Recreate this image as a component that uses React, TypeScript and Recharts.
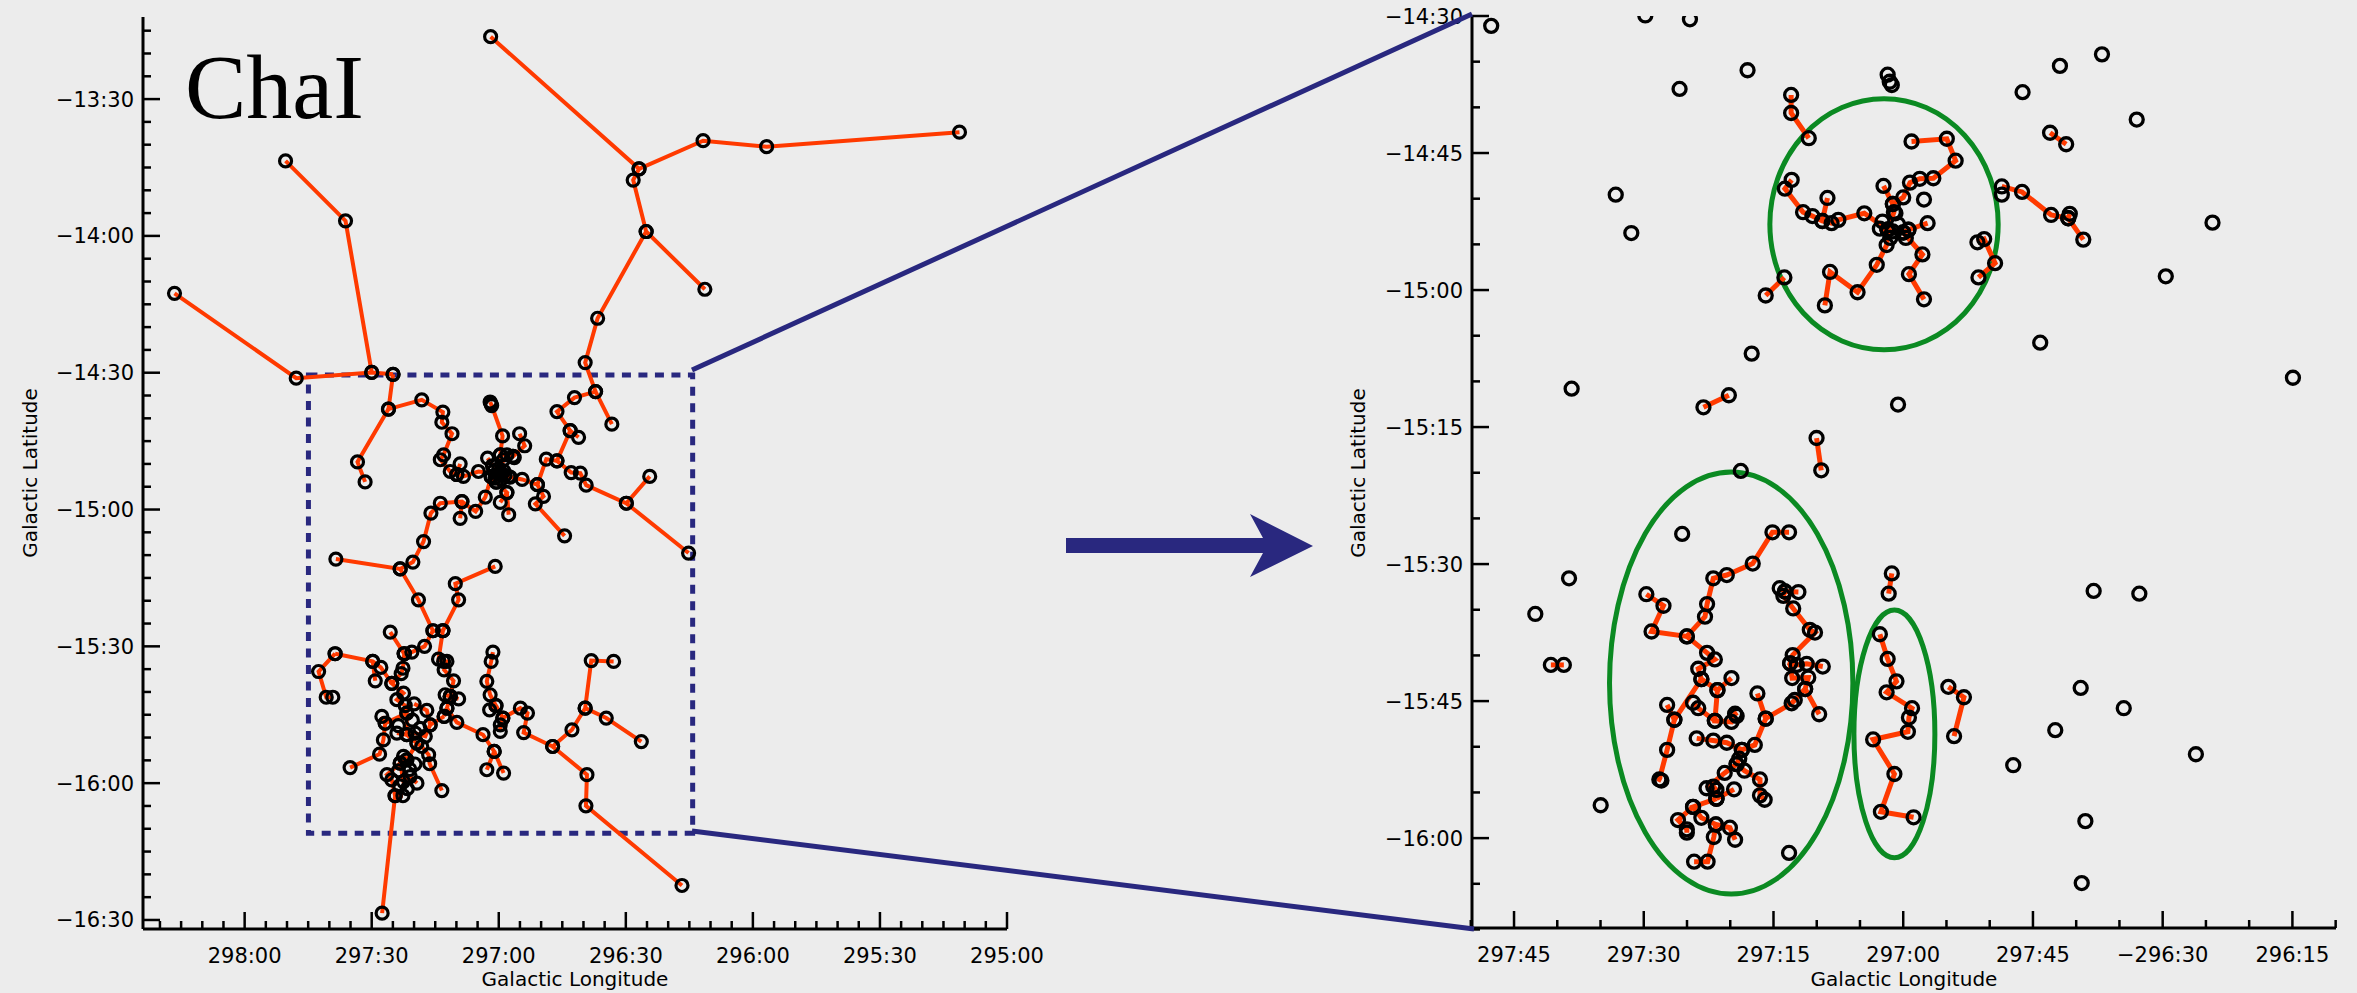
import React from "react";
import { ReferenceArea, Scatter, ScatterChart, XAxis, YAxis } from "recharts";

const RED = "#ff3a00";
const INK = "#000000";
const NAVY = "#29287f";
const GREEN = "#0b8a22";
const BG = "#ececec";
const FONT = "'DejaVu Sans', sans-serif";

// axis ticks (degrees) and their printed labels
const leftXMajors = [298, 297.5, 297, 296.5, 296, 295.5, 295];
const leftXLabels = ["298:00", "297:30", "297:00", "296:30", "296:00", "295:30", "295:00"];
const leftYMajors = [-13.5, -14, -14.5, -15, -15.5, -16, -16.5];
const leftYLabels = ["\u221213:30", "\u221214:00", "\u221214:30", "\u221215:00", "\u221215:30", "\u221216:00", "\u221216:30"];
const rightXMajors = [297.75, 297.5, 297.25, 297, 296.75, 296.5, 296.25];
const rightXLabels = ["297:45", "297:30", "297:15", "297:00", "297:45", "\u2212296:30", "296:15"];
const rightYMajors = [-14.5, -14.75, -15, -15.25, -15.5, -15.75, -16];
const rightYLabels = ["\u221214:30", "\u221214:45", "\u221215:00", "\u221215:15", "\u221215:30", "\u221215:45", "\u221216:00"];

// 5 arcmin minor ticks
const every5 = (from: number, count: number) => Array.from({ length: count }, (_, k) => from + k / 12);
const leftXTicks = every5(295, 41);
const leftYTicks = every5(-16.5, 40);
const rightXTicks = every5(296.25 - 1 / 12, 21);
const rightYTicks = every5(-16 - 2 / 12, 21);

// ChaI, wide field: minimum spanning tree branches [lon, lat]
const leftChains: number[][][] = [
  [[297.032, -13.272], [296.448, -13.755], [296.196, -13.652], [295.946, -13.674], [295.187, -13.621]],
  [[296.448, -13.755], [296.471, -13.796], [296.42, -13.984], [296.189, -14.195]],
  [[296.42, -13.984], [296.611, -14.301], [296.66, -14.463], [296.619, -14.569], [296.555, -14.688]],
  [[296.619, -14.569], [296.702, -14.591], [296.771, -14.642], [296.719, -14.712], [296.771, -14.822], [296.715, -14.865], [296.679, -14.867], [296.656, -14.911], [296.498, -14.977], [296.406, -14.879]],
  [[296.498, -14.977], [296.253, -15.159]],
  [[296.719, -14.712], [296.686, -14.736]],
  [[296.771, -14.822], [296.813, -14.816], [296.848, -14.909], [296.908, -14.89], [296.96, -14.88]],
  [[296.848, -14.909], [296.824, -14.952], [296.856, -14.979], [296.741, -15.096]],
  [[298.276, -14.21], [297.797, -14.52], [297.5, -14.499], [297.416, -14.506]],
  [[297.839, -13.726], [297.603, -13.945], [297.5, -14.499]],
  [[297.416, -14.506], [297.434, -14.633], [297.303, -14.599], [297.22, -14.644], [297.224, -14.681], [297.184, -14.723], [297.217, -14.8], [297.23, -14.818], [297.191, -14.861], [297.165, -14.872], [297.139, -14.879], [297.08, -14.861], [297.0, -14.87]],
  [[297.434, -14.633], [297.556, -14.826], [297.526, -14.899]],
  [[297.152, -14.833], [297.165, -14.872]],
  [[297.034, -14.607], [297.03, -14.615], [297.028, -14.62], [296.985, -14.731], [296.994, -14.8], [297.0, -14.87]],
  [[296.918, -14.723], [296.898, -14.767], [296.944, -14.806], [296.968, -14.8], [296.994, -14.8]],
  [[296.939, -14.81], [296.944, -14.806]],
  [[296.981, -14.818], [297.0, -14.87]],
  [[297.044, -14.812], [297.0, -14.87]],
  [[297.0, -14.87], [297.02, -14.86], [297.03, -14.88], [297.01, -14.9], [296.99, -14.89], [296.98, -14.86], [296.955, -14.882]],
  [[297.01, -14.9], [296.968, -14.938], [296.994, -14.974]],
  [[296.968, -14.938], [296.961, -15.019]],
  [[297.03, -14.88], [297.053, -14.955], [297.091, -15.007], [297.145, -14.971], [297.23, -14.977], [297.267, -15.013], [297.296, -15.117], [297.338, -15.192], [297.388, -15.217], [297.641, -15.181]],
  [[297.145, -14.971], [297.152, -15.032]],
  [[297.388, -15.217], [297.316, -15.33], [297.259, -15.443], [297.22, -15.443]],
  [[297.014, -15.208], [297.171, -15.271], [297.158, -15.33], [297.22, -15.443]],
  [[297.259, -15.443], [297.292, -15.5], [297.342, -15.521], [297.372, -15.527]],
  [[297.427, -15.448], [297.372, -15.527]],
  [[297.644, -15.527], [297.496, -15.555], [297.464, -15.577], [297.421, -15.635]],
  [[297.644, -15.527], [297.709, -15.592], [297.679, -15.686], [297.653, -15.686]],
  [[297.496, -15.555], [297.486, -15.626]],
  [[297.372, -15.527], [297.377, -15.58], [297.384, -15.6], [297.421, -15.635], [297.375, -15.671], [297.401, -15.695], [297.368, -15.717], [297.362, -15.744], [297.362, -15.823], [297.322, -15.854], [297.303, -15.866], [297.276, -15.896], [297.272, -15.929], [297.224, -16.027]],
  [[297.362, -15.744], [297.447, -15.781], [297.46, -15.756]],
  [[297.447, -15.781], [297.454, -15.842], [297.469, -15.894], [297.585, -15.943]],
  [[297.401, -15.817], [297.362, -15.823], [297.329, -15.817], [297.289, -15.829], [297.27, -15.787], [297.283, -15.734], [297.333, -15.71]],
  [[297.322, -15.854], [297.362, -15.915], [297.375, -15.902]],
  [[297.362, -15.915], [297.388, -15.927], [297.44, -15.969], [297.421, -15.988], [297.408, -16.046], [297.459, -16.475]],
  [[297.388, -15.927], [297.375, -15.994], [297.349, -15.976], [297.322, -16.0]],
  [[297.408, -16.046], [297.377, -16.046]],
  [[297.27, -15.787], [297.215, -15.756]],
  [[297.22, -15.443], [297.237, -15.547], [297.217, -15.555], [297.204, -15.555], [297.215, -15.586], [297.178, -15.626], [297.191, -15.683], [297.211, -15.677]],
  [[297.191, -15.683], [297.158, -15.692]],
  [[297.191, -15.683], [297.204, -15.726], [297.215, -15.756]],
  [[297.204, -15.726], [297.165, -15.778], [297.062, -15.823], [297.018, -15.884], [297.047, -15.951]],
  [[297.018, -15.884], [296.981, -15.963]],
  [[297.023, -15.521], [297.03, -15.555], [297.047, -15.628], [297.034, -15.677], [297.011, -15.717], [297.036, -15.732]],
  [[297.011, -15.717], [296.984, -15.762], [296.994, -15.787], [296.994, -15.811]],
  [[296.984, -15.762], [296.915, -15.726], [296.887, -15.744], [296.902, -15.815], [296.788, -15.866], [296.712, -15.805], [296.66, -15.726], [296.636, -15.552], [296.548, -15.555]],
  [[296.66, -15.726], [296.577, -15.762], [296.439, -15.848]],
  [[296.788, -15.866], [296.653, -15.969], [296.657, -16.083], [296.279, -16.374]],
];

// overlapping sources in the two dense cores
const leftCoreExtra: number[][] = [
  [297.0, -14.85], [297.015, -14.885], [296.99, -14.87], [297.025, -14.84], [296.975, -14.875],
  [297.395, -15.79], [297.34, -15.77], [297.31, -15.8], [297.35, -15.95], [297.395, -15.955],
  [297.33, -15.93], [297.36, -16.02], [297.39, -16.01],
];

// zoomed field: short-edge branches [lon, lat]
const rightChains: number[][][] = [
  [[297.167, -15.27], [297.158, -15.329]],
  [[297.385, -15.214], [297.336, -15.192]],
  [[296.717, -14.713], [296.686, -14.734]],
  [[297.216, -14.644], [297.216, -14.677], [297.182, -14.723]],
  [[296.984, -14.729], [296.916, -14.724], [296.899, -14.764], [296.942, -14.796], [296.968, -14.797], [296.987, -14.804], [297.0, -14.831], [297.02, -14.843], [297.018, -14.858], [297.03, -14.89]],
  [[297.038, -14.81], [297.02, -14.843]],
  [[297.03, -14.89], [297.045, -14.888], [297.02, -14.893], [297.0, -14.895], [296.99, -14.89]],
  [[297.03, -14.89], [297.075, -14.86], [297.125, -14.872], [297.138, -14.878], [297.156, -14.874], [297.175, -14.865], [297.193, -14.858], [297.228, -14.815], [297.215, -14.799]],
  [[297.156, -14.874], [297.146, -14.832]],
  [[297.03, -14.89], [297.032, -14.918], [297.051, -14.954], [297.088, -15.004], [297.141, -14.967], [297.151, -15.028]],
  [[297.0, -14.895], [296.963, -14.935], [296.989, -14.971], [296.96, -15.017]],
  [[296.99, -14.89], [296.953, -14.878]],
  [[297.229, -14.977], [297.265, -15.01]],
  [[296.857, -14.913], [296.844, -14.907], [296.823, -14.951], [296.855, -14.977]],
  [[296.81, -14.811], [296.771, -14.821], [296.715, -14.863], [296.682, -14.869], [296.653, -14.908]],
  [[296.682, -14.869], [296.679, -14.861]],
  [[297.22, -15.442], [297.252, -15.442], [297.29, -15.499], [297.34, -15.52], [297.366, -15.526], [297.378, -15.573], [297.382, -15.596], [297.417, -15.632], [297.485, -15.623], [297.462, -15.576], [297.495, -15.555]],
  [[297.417, -15.632], [297.378, -15.662], [297.363, -15.674], [297.395, -15.691], [297.389, -15.71], [297.358, -15.73], [297.331, -15.708]],
  [[297.389, -15.71], [297.441, -15.784], [297.455, -15.757]],
  [[297.441, -15.784], [297.455, -15.839], [297.47, -15.893], [297.466, -15.895]],
  [[297.358, -15.73], [297.363, -15.786], [297.331, -15.788], [297.324, -15.773], [297.321, -15.777]],
  [[297.405, -15.753], [297.395, -15.763], [297.363, -15.786]],
  [[297.238, -15.544], [297.228, -15.55], [297.231, -15.558], [297.212, -15.581], [297.18, -15.62], [297.17, -15.625], [297.213, -15.666], [297.218, -15.681], [297.205, -15.684], [297.186, -15.682], [297.155, -15.687]],
  [[297.228, -15.55], [297.202, -15.551]],
  [[297.218, -15.681], [297.214, -15.708], [297.183, -15.707], [297.189, -15.728], [297.162, -15.774]],
  [[297.189, -15.728], [297.209, -15.748], [297.215, -15.754], [297.265, -15.782], [297.281, -15.736]],
  [[297.265, -15.782], [297.286, -15.83], [297.311, -15.839], [297.316, -15.855], [297.321, -15.865], [297.344, -15.881], [297.379, -15.909], [297.366, -15.906], [297.36, -15.912], [297.36, -15.928]],
  [[297.321, -15.865], [297.306, -15.877], [297.276, -15.893], [297.276, -15.922], [297.267, -15.93]],
  [[297.398, -15.818], [297.366, -15.822], [297.34, -15.826], [297.311, -15.839]],
  [[297.36, -15.928], [297.326, -15.911]],
  [[297.36, -15.928], [297.405, -15.943], [297.389, -15.963], [297.361, -15.975], [297.334, -15.981], [297.324, -16.003]],
  [[297.361, -15.975], [297.365, -15.998], [297.377, -16.043], [297.403, -16.043]],
  [[297.405, -15.943], [297.434, -15.967], [297.417, -15.984], [297.417, -15.99]],
  [[297.679, -15.684], [297.654, -15.684]],
  [[297.022, -15.517], [297.028, -15.554]],
  [[297.045, -15.628], [297.03, -15.673], [297.013, -15.714], [297.032, -15.734], [296.983, -15.763], [296.989, -15.78], [296.991, -15.806], [297.058, -15.82], [297.017, -15.883], [297.043, -15.952], [296.98, -15.962]],
  [[296.913, -15.724], [296.883, -15.743], [296.902, -15.814]],
];

// isolated sources in the zoomed field
const rightSingles: number[][] = [
  [297.794, -14.518], [297.497, -14.499], [297.411, -14.506], [297.3, -14.599], [297.431, -14.633],
  [297.03, -14.607], [297.026, -14.62], [297.022, -14.626],
  [296.698, -14.591], [296.617, -14.57], [296.77, -14.639], [296.55, -14.689],
  [297.554, -14.826], [297.524, -14.896], [296.404, -14.877], [296.494, -14.975], [296.736, -15.096],
  [297.292, -15.116], [297.639, -15.18], [297.01, -15.209], [296.249, -15.16],
  [297.313, -15.33], [297.426, -15.445], [297.644, -15.526], [297.709, -15.591], [297.583, -15.94], [297.22, -16.027],
  [296.633, -15.549], [296.545, -15.554], [296.658, -15.726], [296.575, -15.763], [296.707, -15.803],
  [296.788, -15.867], [296.436, -15.847], [296.649, -15.969], [296.656, -16.082],
  [296.96, -14.835], [296.81, -14.826], [297.04, -14.875], [297.01, -14.88], [297.025, -14.905], [296.995, -14.905], [297.015, -14.86],
];

// zoom box (left panel) and cluster ellipses (right panel), degrees
const zoomBoxLon = [297.749, 296.237];
const zoomBoxLat = [-14.508, -16.183];
const ellipseLon = [[297.257, 296.817], [297.566, 297.097], [297.095, 296.939]];
const ellipseLat = [[-14.651, -15.109], [-15.332, -16.102], [-15.584, -16.036]];

type Pt = { lon: number; lat: number };
const toPts = (arr: number[][]): Pt[] => arr.map(([lon, lat]) => ({ lon, lat }));

const isMajor = (majors: number[], v: number) => majors.findIndex((m) => Math.abs(m - v) < 1e-6);

function renderTick(p: any, side: string, majors: number[], labels: string[] | null) {
  const { x, y, payload } = p;
  const idx = isMajor(majors, payload.value);
  const len = idx >= 0 ? 17 : 8;
  let l = { x1: x, y1: y, x2: x, y2: y };
  if (side === "bottom") l = { x1: x, y1: y, x2: x, y2: y - len };
  if (side === "top") l = { x1: x, y1: y, x2: x, y2: y + len };
  if (side === "left") l = { x1: x, y1: y, x2: x + len, y2: y };
  if (side === "right") l = { x1: x, y1: y, x2: x - len, y2: y };
  let label = null;
  if (labels && idx >= 0) {
    label =
      side === "bottom" ? (
        <text x={x} y={y + 34} textAnchor="middle" fontSize={21} fontFamily={FONT} fill={INK}>
          {labels[idx]}
        </text>
      ) : (
        <text x={x - 9} y={y + 7.5} textAnchor="end" fontSize={21} fontFamily={FONT} fill={INK}>
          {labels[idx]}
        </text>
      );
  }
  return (
    <g>
      <line {...l} stroke={INK} strokeWidth={2.5} />
      {label}
    </g>
  );
}

const ellipseShape = (p: any) => (
  <ellipse
    cx={p.x + p.width / 2}
    cy={p.y + p.height / 2}
    rx={Math.abs(p.width) / 2}
    ry={Math.abs(p.height) / 2}
    fill="none"
    stroke={GREEN}
    strokeWidth={5}
  />
);

const boxShape = (p: any) => (
  <rect x={p.x} y={p.y} width={p.width} height={p.height} fill="none" stroke={NAVY} strokeWidth={5} strokeDasharray="9 7.5" />
);

type PanelProps = {
  pos: number;
  width: number;
  top: number;
  yAxisWidth: number;
  right: number;
  xAxisHeight: number;
  xDomain: [number, number];
  yDomain: [number, number];
  xTicks: number[];
  yTicks: number[];
  xMajors: number[];
  xLabels: string[];
  yMajors: number[];
  yLabels: string[];
  chains: number[][][];
  singles: number[][];
  r: number;
  ring: number;
  lineW: number;
  children?: React.ReactNode;
};

function Panel(props: PanelProps) {
  const allPts = toPts([...props.chains.flat(), ...props.singles]);
  const axisLine = { stroke: INK, strokeWidth: 3 };
  return (
    <div style={{ position: "absolute", left: props.pos, top: 0 }}>
      <ScatterChart width={props.width} height={993} margin={{ top: props.top, right: props.right, bottom: 0, left: 0 }}>
        <XAxis
          dataKey="lon"
          type="number"
          reversed
          domain={props.xDomain}
          allowDataOverflow
          ticks={props.xTicks}
          interval={0}
          tickSize={0}
          tickMargin={0}
          height={props.xAxisHeight}
          axisLine={axisLine}
          tick={(p: any) => renderTick(p, "bottom", props.xMajors, props.xLabels)}
          label={{ value: "Galactic Longitude", position: "insideBottom", offset: 7, fontSize: 20, fontFamily: FONT, fill: INK }}
        />
        <XAxis
          xAxisId="top"
          orientation="top"
          type="number"
          reversed
          domain={props.xDomain}
          allowDataOverflow
          ticks={props.xTicks}
          interval={0}
          tickSize={0}
          tickMargin={0}
          height={0}
          axisLine={axisLine}
          tick={(p: any) => renderTick(p, "top", props.xMajors, null)}
        />
        <YAxis
          dataKey="lat"
          type="number"
          domain={props.yDomain}
          allowDataOverflow
          ticks={props.yTicks}
          interval={0}
          tickSize={0}
          tickMargin={0}
          width={props.yAxisWidth}
          axisLine={axisLine}
          tick={(p: any) => renderTick(p, "left", props.yMajors, props.yLabels)}
        />
        <YAxis
          yAxisId="right"
          orientation="right"
          type="number"
          domain={props.yDomain}
          allowDataOverflow
          ticks={props.yTicks}
          interval={0}
          tickSize={0}
          tickMargin={0}
          width={0}
          axisLine={axisLine}
          tick={(p: any) => renderTick(p, "right", props.yMajors, null)}
        />
        {props.chains.map((c, i) => (
          <Scatter
            key={`c${i}`}
            data={toPts(c)}
            fill={RED}
            line={{ stroke: RED, strokeWidth: props.lineW }}
            shape={() => <g />}
            isAnimationActive={false}
          />
        ))}
        <Scatter
          data={allPts}
          fill="none"
          isAnimationActive={false}
          shape={(p: any) => <circle cx={p.cx} cy={p.cy} r={props.r} fill="none" stroke={INK} strokeWidth={props.ring} />}
        />
        {props.children}
      </ScatterChart>
    </div>
  );
}

export default function App() {
  return (
    <div style={{ position: "absolute", left: 0, top: 0, width: 2357, height: 993, background: BG, overflow: "hidden" }}>
      <Panel
        pos={0}
        width={1100}
        top={17}
        yAxisWidth={143}
        right={93}
        xAxisHeight={64}
        xDomain={[295.0, 298.4]}
        yDomain={[-16.533, -13.2]}
        xTicks={leftXTicks}
        yTicks={leftYTicks}
        xMajors={leftXMajors}
        xLabels={leftXLabels}
        yMajors={leftYMajors}
        yLabels={leftYLabels}
        chains={leftChains}
        singles={leftCoreExtra}
        r={6}
        ring={3.2}
        lineW={4}
      >
        <ReferenceArea
          x1={zoomBoxLon[0]}
          x2={zoomBoxLon[1]}
          y1={zoomBoxLat[0]}
          y2={zoomBoxLat[1]}
          ifOverflow="visible"
          shape={boxShape}
        />
      </Panel>
      <Panel
        pos={1300}
        width={1057}
        top={16}
        yAxisWidth={172}
        right={21}
        xAxisHeight={65}
        xDomain={[296.166, 297.831]}
        yDomain={[-16.164, -14.5]}
        xTicks={rightXTicks}
        yTicks={rightYTicks}
        xMajors={rightXMajors}
        xLabels={rightXLabels}
        yMajors={rightYMajors}
        yLabels={rightYLabels}
        chains={rightChains}
        singles={rightSingles}
        r={6.5}
        ring={3.3}
        lineW={5}
      >
        {ellipseLon.map((lon, i) => (
          <ReferenceArea
            key={`e${i}`}
            x1={lon[0]}
            x2={lon[1]}
            y1={ellipseLat[i][0]}
            y2={ellipseLat[i][1]}
            ifOverflow="visible"
            shape={ellipseShape}
          />
        ))}
      </Panel>
      <svg width={2357} height={993} style={{ position: "absolute", left: 0, top: 0, pointerEvents: "none" }}>
        <text x={185} y={118} fontFamily="'Liberation Serif', serif" fontSize={92} fill={INK}>
          ChaI
        </text>
        <text x={30} y={473} transform="rotate(-90 30 473)" textAnchor="middle" dominantBaseline="central" fontSize={20} fontFamily={FONT} fill={INK}>
          Galactic Latitude
        </text>
        <text x={1358} y={473} transform="rotate(-90 1358 473)" textAnchor="middle" dominantBaseline="central" fontSize={20} fontFamily={FONT} fill={INK}>
          Galactic Latitude
        </text>
        <line x1={692} y1={370} x2={1472} y2={14} stroke={NAVY} strokeWidth={5} />
        <line x1={692} y1={831} x2={1474} y2={929} stroke={NAVY} strokeWidth={5} />
        <polygon points="1066,538 1263,538 1250,514 1313,546 1250,577 1263,553 1066,553" fill={NAVY} />
      </svg>
    </div>
  );
}
